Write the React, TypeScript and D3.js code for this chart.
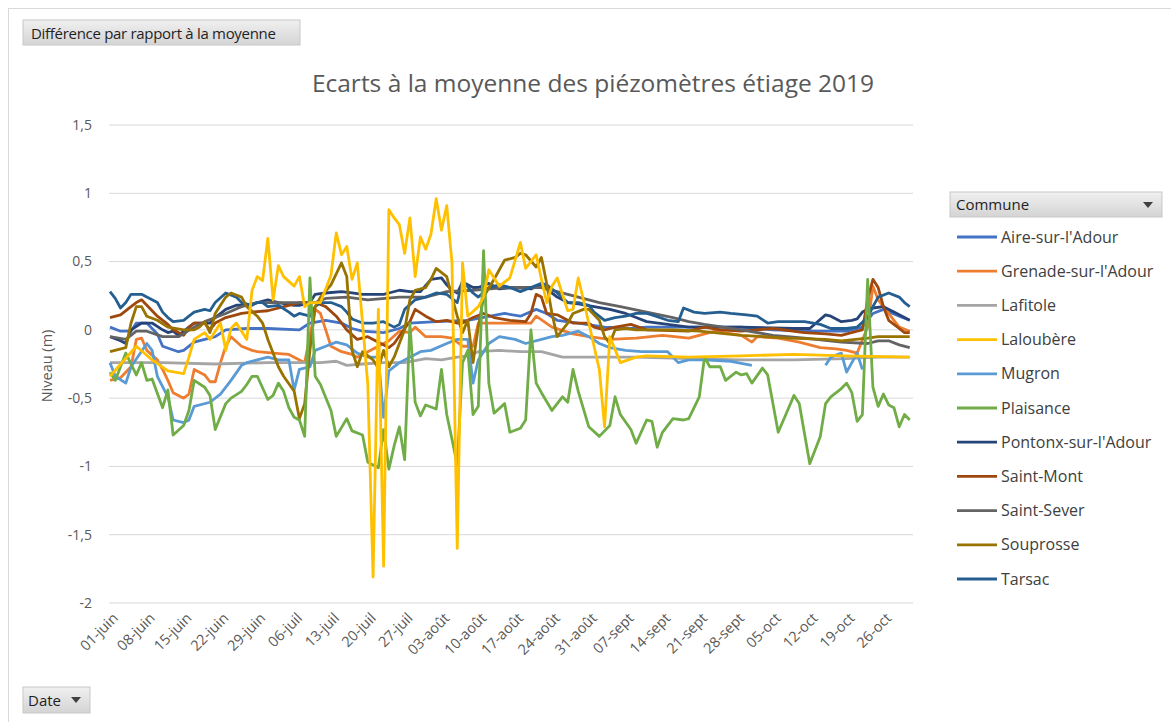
import React from 'react';
import * as d3 from 'd3';

// day offsets from 1 June 2019, value in metres
const aire: [number, number | null][] = [[0,0.02],[2,-0.01],[4,-0.01],[5,0.05],[7,0.05],[9,-0.03],[10,-0.12],[13,-0.16],[14,-0.15],[16,-0.09],[18,-0.07],[20,-0.05],[22,0],[26,0.01],[30,0.01],[36,0],[38,0.05],[41,0.07],[44,0.05],[46,0.01],[48,-0.01],[52,-0.02],[55,0.01],[57,0.05],[62,0.06],[68,0.07],[75,0.12],[78,0.1],[81,0.15],[83,0.12],[85,0.07],[89,0.05],[94,0.02],[99,0.01],[102,0.02],[110,0.02],[120,0.02],[126,0],[134,-0.01],[140,-0.01],[143,0.02],[145,0.12],[147,0.15],[150,0.1],[152,0.07]];
const grenade: [number, number | null][] = [[0,-0.37],[2,-0.35],[4,-0.27],[5,-0.07],[6,-0.06],[7,-0.15],[9,-0.22],[10,-0.29],[11,-0.37],[12,-0.46],[14,-0.5],[15,-0.47],[16,-0.29],[18,-0.33],[19,-0.38],[20,-0.38],[21,-0.24],[22,-0.12],[23,-0.05],[25,-0.12],[27,-0.15],[28,-0.16],[31,-0.17],[34,-0.18],[36,-0.22],[37,-0.24],[39,0.15],[40,0.12],[41,0],[42,-0.12],[44,-0.16],[46,-0.18],[47,-0.2],[49,-0.16],[51,-0.12],[53,-0.08],[55,-0.01],[57,-0.02],[58,0.02],[60,-0.05],[63,-0.05],[65,-0.06],[67,-0.12],[69,-0.12],[70,0.05],[75,0.05],[80,0.05],[81,0.1],[84,0.02],[88,-0.03],[91,-0.05],[95,-0.07],[100,-0.06],[105,-0.04],[110,-0.06],[115,-0.01],[120,-0.04],[122,-0.09],[123,-0.05],[127,-0.06],[131,-0.09],[135,-0.13],[138,-0.14],[140,-0.15],[142,-0.17],[144,0.02],[145,0.32],[146,0.22],[148,0.12],[149,0.07],[150,0.02],[152,-0.01]];
const lafitole: [number, number | null][] = [[0,-0.24],[10,-0.24],[20,-0.25],[30,-0.24],[36,-0.24],[40,-0.24],[43,-0.23],[45,-0.26],[48,-0.25],[52,-0.24],[56,-0.24],[60,-0.21],[63,-0.22],[66,-0.2],[68,-0.19],[70,-0.16],[74,-0.15],[78,-0.16],[82,-0.16],[86,-0.2],[92,-0.2],[100,-0.2],[110,-0.21],[120,-0.22],[130,-0.22],[140,-0.21],[146,-0.2],[152,-0.2]];
const laloubere: [number, number | null][] = [[0,-0.34],[5,-0.12],[8,-0.22],[11,-0.3],[14,-0.32],[15,-0.2],[16,-0.07],[18,-0.02],[19,-0.07],[21,0.05],[22,-0.15],[23,0.01],[24,0.05],[26,-0.07],[27,0.29],[28,0.39],[29,0.36],[30,0.67],[31,0.22],[32,0.47],[33,0.39],[35,0.32],[36,0.39],[37,0.17],[38,0.2],[40,0.2],[42,0.4],[43,0.71],[44,0.55],[45,0.61],[46,0.37],[47,0.49],[48,0.05],[49,-0.4],[50,-1.81],[51,0.15],[52,-1.73],[53,0.88],[54,0.82],[55,0.77],[56,0.56],[57,0.82],[58,0.39],[59,0.68],[60,0.59],[61,0.7],[62,0.96],[63,0.73],[64,0.91],[65,0.49],[66,-1.6],[67,0.49],[68,0.1],[70,0.17],[71,0.24],[72,0.44],[74,0.32],[76,0.38],[78,0.64],[79,0.45],[81,0.55],[82,0.37],[83,0.2],[84,0.32],[85,0.38],[87,0.14],[88,0.15],[89,0.38],[91,0.05],[93,-0.29],[94,-0.71],[95,-0.05],[97,-0.24],[100,-0.2],[102,-0.19],[110,-0.2],[120,-0.19],[130,-0.18],[140,-0.19],[152,-0.2]];
const mugron: [number, number | null][] = [[0,-0.24],[1,-0.34],[3,-0.39],[4,-0.27],[7,-0.1],[8,-0.15],[9,-0.34],[11,-0.49],[12,-0.66],[14,-0.68],[15,-0.66],[16,-0.56],[19,-0.53],[21,-0.47],[23,-0.37],[25,-0.26],[26,-0.24],[28,-0.22],[30,-0.2],[32,-0.22],[34,-0.22],[35,-0.44],[36,-0.29],[38,-0.27],[39,-0.15],[41,-0.12],[43,-0.09],[45,-0.11],[47,-0.17],[49,-0.2],[51,-0.2],[52,-0.64],[53,-0.3],[55,-0.24],[57,-0.2],[59,-0.16],[61,-0.15],[64,-0.1],[66,-0.07],[68,-0.07],[69,-0.39],[70,-0.22],[72,-0.1],[74,-0.05],[77,-0.07],[79,-0.1],[82,-0.07],[84,-0.05],[86,-0.04],[89,-0.01],[91,-0.05],[93,-0.1],[95,-0.13],[98,-0.15],[101,-0.16],[104,-0.16],[106,-0.16],[108,-0.24],[110,-0.22],[113,-0.22],[118,-0.23],[122,-0.26],[123,null],[135,null],[136,-0.26],[137,-0.2],[139,-0.17],[140,-0.31],[142,-0.17],[143,-0.29]];
const plaisance: [number, number | null][] = [[0,-0.31],[1,-0.37],[3,-0.17],[5,-0.33],[6,-0.24],[7,-0.37],[8,-0.36],[10,-0.57],[11,-0.44],[12,-0.77],[14,-0.7],[15,-0.59],[16,-0.37],[18,-0.42],[19,-0.48],[20,-0.73],[22,-0.54],[23,-0.5],[25,-0.45],[26,-0.4],[27,-0.34],[28,-0.34],[30,-0.51],[31,-0.48],[32,-0.39],[33,-0.45],[34,-0.57],[35,-0.64],[36,-0.66],[37,-0.78],[38,0.38],[39,-0.34],[40,-0.4],[42,-0.59],[43,-0.78],[45,-0.65],[46,-0.74],[48,-0.77],[49,-0.97],[51,-1.01],[52,-0.73],[53,-1.02],[54,-0.85],[55,-0.71],[56,-0.95],[57,0.05],[58,-0.53],[59,-0.63],[60,-0.55],[62,-0.58],[63,-0.29],[64,-0.62],[65,-0.8],[66,-0.99],[67,-0.24],[68,-0.15],[69,-0.62],[70,-0.56],[71,0.58],[72,-0.39],[73,-0.61],[75,-0.54],[76,-0.75],[78,-0.72],[79,-0.66],[80,0],[81,-0.39],[82,-0.46],[84,-0.59],[86,-0.49],[87,-0.53],[88,-0.29],[89,-0.45],[91,-0.71],[93,-0.78],[95,-0.7],[96,-0.49],[97,-0.62],[99,-0.73],[100,-0.83],[102,-0.66],[103,-0.67],[104,-0.86],[105,-0.75],[107,-0.65],[109,-0.66],[110,-0.65],[112,-0.49],[113,-0.2],[114,-0.27],[116,-0.27],[117,-0.37],[119,-0.31],[120,-0.33],[121,-0.32],[122,-0.39],[124,-0.28],[125,-0.33],[127,-0.75],[129,-0.57],[130,-0.48],[131,-0.54],[133,-0.98],[135,-0.78],[136,-0.54],[137,-0.49],[139,-0.43],[140,-0.39],[141,-0.46],[142,-0.67],[143,-0.62],[144,0.37],[145,-0.42],[146,-0.56],[147,-0.47],[148,-0.55],[149,-0.57],[150,-0.71],[151,-0.62],[152,-0.66]];
const pontonx: [number, number | null][] = [[0,-0.05],[2,-0.08],[3,-0.1],[4,0],[6,0.05],[8,0.05],[10,0],[11,-0.02],[12,-0.01],[13,-0.04],[15,0.02],[16,0.05],[19,0.05],[20,0.09],[22,0.15],[24,0.18],[26,0.18],[28,0.2],[30,0.22],[32,0.2],[35,0.18],[36,0.18],[38,0.2],[39,0.26],[41,0.27],[44,0.28],[46,0.27],[48,0.26],[50,0.26],[52,0.26],[53,0.27],[55,0.29],[57,0.28],[59,0.28],[61,0.37],[63,0.38],[64,0.33],[65,0.29],[66,0.27],[67,0.35],[69,0.31],[70,0.31],[72,0.34],[74,0.3],[77,0.31],[80,0.3],[82,0.33],[85,0.24],[87,0.2],[89,0.19],[92,0.17],[95,0.15],[98,0.12],[100,0.09],[102,0.06],[110,0.02],[120,0.02],[130,0.01],[133,0.01],[136,0.11],[137,0.1],[139,0.06],[141,0.07],[142,0.08],[143,0.13],[144,0.15],[145,0.16],[147,0.17],[149,0.13],[151,0.09],[152,0.07]];
const saintMont: [number, number | null][] = [[0,0.09],[2,0.11],[4,0.17],[5,0.2],[6,0.22],[7,0.18],[9,0.1],[11,0.04],[12,0],[14,-0.04],[15,0.02],[16,0.05],[18,0.05],[19,0],[20,0.05],[22,0.09],[24,0.11],[25,0.12],[27,0.13],[30,0.14],[34,0.18],[36,0.2],[39,0.2],[41,0.17],[43,0.1],[45,0],[47,-0.07],[49,-0.05],[51,-0.09],[53,-0.13],[54,-0.1],[56,0.01],[57,0.06],[58,0.15],[60,0.1],[62,0.06],[64,0.07],[66,0.05],[67,0.05],[69,0.09],[71,0.12],[73,0.09],[76,0.07],[79,0.06],[80,0.12],[81,0.26],[82,0.24],[83,0.12],[85,0.11],[86,0.09],[88,0.05],[91,0.05],[92,0.02],[94,0],[96,0.02],[99,0.04],[102,0],[110,-0.01],[113,0.02],[116,0],[120,-0.01],[126,0.01],[132,-0.02],[136,-0.03],[139,-0.04],[142,-0.01],[143,0],[144,0.22],[145,0.37],[146,0.31],[147,0.17],[148,0.07],[150,0.01],[151,-0.02],[152,-0.02]];
const saintSever: [number, number | null][] = [[0,-0.05],[3,-0.07],[5,-0.01],[7,-0.01],[10,-0.05],[13,-0.05],[16,0.02],[18,0.06],[20,0.09],[22,0.12],[25,0.17],[28,0.2],[36,0.2],[39,0.2],[41,0.23],[45,0.24],[49,0.22],[55,0.24],[60,0.24],[64,0.28],[69,0.29],[75,0.31],[82,0.31],[85,0.28],[89,0.24],[93,0.2],[97,0.17],[102,0.13],[107,0.09],[110,0.06],[113,0.04],[120,0],[126,-0.04],[132,-0.06],[139,-0.09],[144,-0.1],[146,-0.08],[148,-0.08],[150,-0.11],[152,-0.13]];
const souprosse: [number, number | null][] = [[0,-0.16],[3,-0.13],[4,0.05],[5,0.17],[6,0.17],[7,0.1],[9,0.07],[11,0.02],[14,0],[16,0],[17,0.02],[18,0.06],[19,-0.02],[20,0.12],[22,0.24],[23,0.27],[25,0.24],[26,0.17],[28,0.1],[29,0.05],[30,-0.07],[32,-0.27],[33,-0.34],[35,-0.45],[36,-0.65],[37,-0.54],[38,-0.15],[39,0.17],[40,0.24],[42,0.33],[44,0.49],[45,0.39],[46,-0.15],[47,-0.27],[48,-0.16],[50,-0.22],[51,-0.28],[52,-0.15],[53,-0.27],[54,-0.2],[56,0],[57,0.22],[58,0.29],[60,0.31],[61,0.37],[62,0.45],[64,0.39],[65,0.24],[66,0.1],[67,-0.02],[68,0.07],[69,-0.24],[70,0.02],[71,0.24],[73,0.37],[74,0.44],[75,0.51],[77,0.53],[78,0.56],[79,0.55],[81,0.46],[82,0.53],[83,0.34],[84,0.12],[85,-0.05],[87,0.05],[88,0.12],[90,0.15],[91,0.15],[93,0.07],[94,-0.05],[95,-0.1],[96,0],[98,0.01],[100,0],[107,0],[112,-0.01],[120,-0.04],[129,-0.06],[136,-0.07],[139,-0.08],[144,-0.06],[146,-0.05],[152,-0.05]];
const tarsac: [number, number | null][] = [[0,0.28],[1,0.23],[2,0.16],[3,0.2],[4,0.26],[6,0.26],[7,0.24],[8,0.22],[9,0.2],[10,0.13],[11,0.09],[12,0.06],[14,0.07],[15,0.1],[16,0.13],[18,0.15],[19,0.14],[20,0.2],[22,0.27],[24,0.24],[25,0.2],[27,0.18],[28,0.2],[29,0.2],[30,0.17],[32,0.18],[34,0.13],[35,0.1],[36,0.12],[38,0.1],[39,0.17],[40,0.2],[42,0.2],[44,0.17],[45,0.13],[46,0.08],[48,0.05],[50,0.05],[52,0.06],[54,0.02],[55,0.04],[56,0.15],[58,0.22],[60,0.24],[62,0.27],[64,0.26],[66,0.2],[67,0.36],[69,0.27],[70,0.24],[72,0.31],[74,0.33],[76,0.31],[78,0.28],[80,0.31],[82,0.34],[83,0.33],[85,0.27],[87,0.2],[89,0.2],[91,0.18],[92,0.13],[94,0.07],[96,0.09],[98,0.1],[100,0.12],[102,0.12],[103,0.11],[106,0.07],[108,0.06],[109,0.16],[111,0.13],[113,0.12],[116,0.13],[118,0.12],[121,0.11],[123,0.1],[125,0.05],[127,0.06],[129,0.06],[132,0.06],[135,0.04],[137,0.01],[140,0.01],[142,0.02],[144,0.09],[145,0.17],[146,0.24],[148,0.27],[150,0.24],[151,0.2],[152,0.17]];

const communes = ["Aire-sur-l'Adour", "Grenade-sur-l'Adour", 'Lafitole', 'Laloubère', 'Mugron', 'Plaisance', "Pontonx-sur-l'Adour", 'Saint-Mont', 'Saint-Sever', 'Souprosse', 'Tarsac'];
const colors = ['#4472c4', '#ed7d31', '#a5a5a5', '#ffc000', '#5b9bd5', '#70ad47', '#264478', '#9e480e', '#636363', '#997300', '#255e91'];
const seriesData = [aire, grenade, lafitole, laloubere, mugron, plaisance, pontonx, saintMont, saintSever, souprosse, tarsac];
// paint order so the spiky series stay on top like in the original
const drawOrder = [0, 1, 2, 4, 6, 7, 8, 10, 9, 5, 3];

const yTicks = [1.5, 1, 0.5, 0, -0.5, -1, -1.5, -2];
const xTickLabels = ['01-juin', '08-juin', '15-juin', '22-juin', '29-juin', '06-juil', '13-juil', '20-juil', '27-juil', '03-août', '10-août', '17-août', '24-août', '31-août', '07-sept', '14-sept', '21-sept', '28-sept', '05-oct', '12-oct', '19-oct', '26-oct'];

const font = '"Open Sans", "Noto Sans", sans-serif';
const start = new Date(2019, 5, 1);

export default function App() {
  const x = d3.scaleTime().domain([start, new Date(2019, 10, 1)]).range([110, 915]);
  const y = d3.scaleLinear().domain([-2, 1.5]).range([603, 125]);
  const line = d3.line<[number, number | null]>()
    .defined((p) => p[1] !== null)
    .x((p) => x(d3.timeDay.offset(start, p[0])))
    .y((p) => y(p[1] as number));

  return (
    <svg width={1171} height={722} style={{ position: 'absolute', left: 0, top: 0, fontFamily: font }}>
      <defs>
        <linearGradient id="btn" x1="0" y1="0" x2="0" y2="1">
          <stop offset="0" stopColor="#f0f0f0" />
          <stop offset="1" stopColor="#d4d4d4" />
        </linearGradient>
      </defs>
      <rect x={0} y={0} width={1171} height={722} fill="#fff" />
      <rect x={8.5} y={8.5} width={1170} height={720} fill="none" stroke="#d9d9d9" />

      <rect x={23} y={20} width={277} height={25} fill="url(#btn)" stroke="#c8c8c8" />
      <text x={31} y={38.5} fontSize={15} fill="#1f1f1f" letterSpacing={-0.3}>Différence par rapport à la moyenne</text>

      <text x={593} y={92} textAnchor="middle" fontSize={24.5} fill="#595959">Ecarts à la moyenne des piézomètres étiage 2019</text>

      {yTicks.map((t) => (
        <g key={t}>
          <line x1={109} x2={913} y1={y(t)} y2={y(t)} stroke="#d9d9d9" strokeWidth={1} />
          <text x={92} y={y(t)} dy="0.35em" textAnchor="end" fontSize={14} fill="#595959">
            {String(t).replace('.', ',')}
          </text>
        </g>
      ))}

      <text transform="translate(52,366) rotate(-90)" textAnchor="middle" fontSize={14.5} fill="#595959">Niveau (m)</text>

      {xTickLabels.map((lab, i) => {
        const px = x(d3.timeDay.offset(start, i * 7));
        return (
          <text key={lab} transform={`translate(${px + 9},${619}) rotate(-45)`} textAnchor="end" fontSize={14.5} fill="#595959">
            {lab}
          </text>
        );
      })}

      {drawOrder.map((i) => (
        <path key={communes[i]} d={line(seriesData[i]) || ''} fill="none" stroke={colors[i]} strokeWidth={2.8} strokeLinejoin="round" />
      ))}

      <rect x={950} y={192} width={212} height={25} fill="url(#btn)" stroke="#c8c8c8" />
      <text x={956} y={210} fontSize={15} fill="#1f1f1f">Commune</text>
      <path d="M1143,202 L1153,202 L1148,208 Z" fill="#404040" />
      {communes.map((c, i) => {
        const ly = 237 + i * 34.2;
        return (
          <g key={c}>
            <line x1={957} x2={997} y1={ly} y2={ly} stroke={colors[i]} strokeWidth={2.8} />
            <text x={1001} y={ly} dy="0.35em" fontSize={16} fill="#404040">{c}</text>
          </g>
        );
      })}

      <rect x={23} y={687} width={67} height={26} fill="url(#btn)" stroke="#c8c8c8" />
      <text x={28} y={705.5} fontSize={15} fill="#1f1f1f">Date</text>
      <path d="M71,697 L81,697 L76,703 Z" fill="#404040" />
    </svg>
  );
}
